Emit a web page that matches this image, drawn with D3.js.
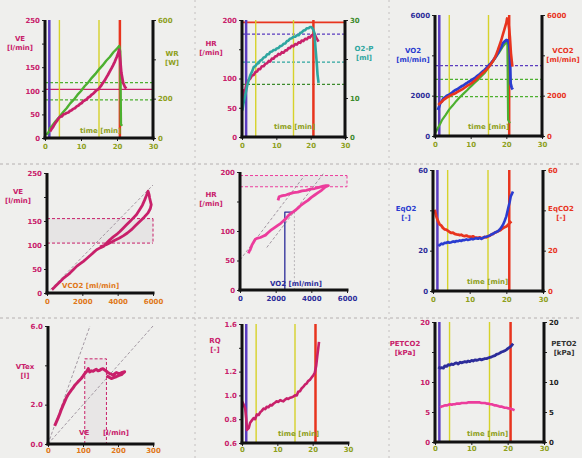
<!DOCTYPE html>
<html><head><meta charset="utf-8">
<script src="https://cdn.jsdelivr.net/npm/d3@7/dist/d3.min.js"></script>
<style>
html,body{margin:0;padding:0;background:#efefed;}
svg{display:block;}
text{font-family:"DejaVu Sans","Liberation Sans",sans-serif;}
</style></head>
<body><svg id="c" width="582" height="458"></svg>
<script>
// ================= DATA =================
const timeTicks = [0, 10, 20, 30];
const eventTimes = [1.2, 4.0, 15.0, 20.8];          // start, VT1, VT2, end of load (min)

// Panel 1: VE and work rate vs time
const p1Time = [1.4,1.9,2.3,2.8,3.3,3.7,4.2,4.7,5.1,5.6,6.0,6.5,6.9,7.4,7.9,8.3,8.8,9.3,9.7,10.2,10.6,11.1,11.6,12.0,12.5,13.0,13.4,13.9,14.3,14.8,15.2,15.7,16.1,16.6,17.1,17.5,18.0,18.5,18.9,19.4,19.9,20.3,20.6,20.9,21.2,21.7,22.2,22.6];
const p1VE   = [14,20,24,31,36,41,45,46,50,51,53,54,57,59,62,63,67,69,72,74,78,80,82,86,88,92,94,98,101,103,107,112,117,122,129,134,141,148,154,162,171,179,187,165,138,117,108,105];
const p1WorkTime = [0.3,1.0,1.4,2.0,3.0,4.0,5.0,6.0,7.0,8.0,9.0,10.0,11.0,12.0,13.0,14.0,15.0,16.0,17.0,18.0,19.0,20.0,20.6,20.9,21.1,21.4];
const p1Work = [15,30,50,62,86,107,131,151,176,195,219,239,263,282,306,326,349,369,393,412,436,454,468,440,70,62];
const p1HLinesWork = [282, 194];
const p1HLineVE = 103;

// Panel 2: HR and O2 pulse vs time
const p2Time = [0.1,0.3,0.5,0.8,1.2,1.6,1.9,2.4,2.9,3.4,3.9,4.4,4.8,5.3,5.8,6.3,6.8,7.3,7.8,8.2,8.7,9.2,9.7,10.1,10.6,11.1,11.6,12.1,12.6,13.1,13.5,14.0,14.5,15.0,15.5,16.0,16.5,17.0,17.4,17.9,18.4,18.9,19.4,19.8,20.3,20.8,21.2,21.5,21.9,22.3];
const p2HR   = [52,70,80,76,88,93,97,100,105,106,111,112,116,116,121,121,125,126,130,129,134,134,138,138,142,141,145,144,148,148,152,152,156,155,159,158,162,161,165,164,168,167,171,170,174,175,176,171,167,163];
const p2O2pTime = [0.1,0.4,0.8,1.2,1.6,1.9,2.4,2.9,3.4,3.9,4.4,4.8,5.3,5.8,6.3,6.8,7.3,7.8,8.2,8.7,9.2,9.7,10.1,10.6,11.1,11.6,12.1,12.6,13.1,13.5,14.0,14.5,15.0,15.5,16.0,16.5,17.0,17.4,17.9,18.4,18.9,19.4,19.8,20.2,20.5,20.8,21.1,21.4,21.8,22.0,22.3];
const p2O2p  = [6.8,8.5,10.1,11.8,13.5,14.4,15.8,16.7,17.9,18.2,18.8,18.9,19.6,19.8,20.4,20.5,21.2,21.2,21.8,21.9,22.3,22.3,22.7,22.8,23.3,23.4,23.9,24.0,24.6,24.7,25.2,25.3,25.7,25.7,26.1,26.1,26.7,26.8,27.3,27.4,27.9,27.9,28.2,28.2,27.9,27.4,26.6,23.0,18.6,16.0,13.9];
const p2HLinesHR = [196, 176];
const p2HLinesO2p = [19.2, 13.5];

// Panel 3: VO2, VCO2 (and work-equivalent reference) vs time
const p3VO2Time = [0.8,1.2,1.5,1.9,2.4,2.8,3.3,3.8,4.3,4.8,5.2,5.7,6.2,6.7,7.1,7.6,8.1,8.6,9.0,9.5,10.0,10.5,10.9,11.4,11.9,12.4,12.8,13.3,13.8,14.3,14.7,15.2,15.7,16.2,16.7,17.1,17.6,18.1,18.6,19.0,19.5,20.0,20.5,20.8,21.0,21.2,21.5,21.8];
const p3VO2 = [1290,1480,1640,1720,1870,1910,1990,2030,2090,2150,2210,2280,2310,2370,2420,2480,2520,2590,2630,2690,2740,2800,2850,2910,2980,3050,3110,3190,3260,3340,3420,3520,3610,3720,3850,3950,4100,4260,4420,4600,4680,4760,4730,4500,4100,2610,2400,2310];
const p3VCO2Time = [0.9,1.4,1.9,2.4,2.8,3.3,3.8,4.3,4.8,5.2,5.7,6.2,6.7,7.1,7.6,8.1,8.6,9.0,9.5,10.0,10.5,10.9,11.4,11.9,12.4,12.8,13.3,13.8,14.3,14.7,15.2,15.7,16.2,16.7,17.1,17.6,18.1,18.6,19.0,19.4,19.8,20.0,20.2,20.4,20.6,20.8,21.0,21.3,21.7];
const p3VCO2 = [1540,1620,1700,1790,1840,1900,1950,2010,2050,2080,2120,2170,2220,2260,2310,2370,2430,2480,2530,2590,2650,2710,2780,2880,2960,3030,3110,3190,3260,3350,3440,3570,3700,3850,4010,4250,4510,4760,5010,5250,5500,5620,5830,5700,5590,5300,4930,4100,3440];
const p3RefTime = [0.0,0.5,1.0,1.5,2.0,3.0,4.0,5.0,6.0,7.0,8.0,9.0,10.0,11.0,12.0,13.0,14.0,15.0,16.0,17.0,18.0,19.0,19.6,20.0,20.3,20.5,21.0];
const p3Ref = [130,300,460,620,800,1050,1320,1520,1740,1930,2100,2270,2450,2620,2780,2960,3140,3400,3640,3900,4150,4430,4560,4630,4600,800,630];
const p3HLines = [3490, 2810, 1950];

// Panel 4: VE vs VCO2
const p4VCO2 = [280,420,560,750,940,1120,1310,1500,1690,1880,2060,2250,2440,2620,2810,3000,3190,3375,3560,3750,3940,4125,4310,4500,4690,4875,5060,5250,5400,5530,5630,5720,5780,5810,5860,5900,5850,5720,5500,5250,5000,4780,4550,4310,4080,3840,3600,3375,3180,3000];
const p4VE   = [7,12,17,24,31,36,42,49,56,61,66,72,78,84,90,94,97,104,111,117,122,128,135,142,149,156,163,174,183,194,203,212,205,198,190,184,176,167,158,149,140,132,125,119,114,110,105,101,98,96];
const p4RefLine = [[0, 0], [6000, 225]];
const p4Box = [104, 155];

// Panel 5: HR vs VO2
const p5VO2 = [476,520,571,620,667,760,857,1000,1143,1290,1429,1570,1714,1860,2000,2140,2286,2430,2571,2710,2857,3000,3143,3290,3429,3620,3810,4000,4190,4380,4571,4720,4857,4952,4820,4667,4430,4190,3950,3714,3480,3238,3000,2762,2570,2381,2190,2133];
const p5HR  = [62,66,68,72,76,81,86,88,89,91,93,97,101,104,107,110,113,117,121,126,130,133,136,140,144,148,152,157,161,165,169,173,176,177,177,176,174,172,171,169,168,166,165,163,161,160,158,152];
const p5RefLines = [[[0, 51], [3620, 194]], [[1500, 72], [4667, 197]]];
const p5Box = [175, 194];
const p5Marker = {vo2: 2514, vo2b: 3050, hr: 132};

// Panel 6: ventilatory equivalents vs time
const p6EqO2Time = [1.4,1.8,2.3,2.7,3.2,3.6,4.1,4.5,5.0,5.5,5.9,6.4,6.8,7.3,7.7,8.2,8.6,9.1,9.5,10.0,10.5,10.9,11.4,11.8,12.3,12.7,13.2,14.1,14.6,15.0,15.5,15.9,16.4,16.8,17.3,17.7,18.2,18.6,19.1,19.5,20.0,20.5,20.9,21.2,21.5,21.8];
const p6EqO2 = [23.0,22.6,23.5,23.2,23.9,23.8,24.3,23.9,24.2,24.6,24.3,24.8,24.7,25.1,24.8,25.3,25.2,25.6,25.3,25.5,25.9,25.6,26.0,26.2,25.9,26.3,25.8,26.8,26.9,27.2,27.6,28.0,28.4,28.9,29.3,29.6,30.5,31.4,32.9,34.6,37.0,41.0,44.0,46.9,48.0,49.3];
const p6EqCO2Time = [0.45,0.9,1.4,1.8,2.3,2.7,3.2,3.6,4.1,4.5,5.0,5.5,5.9,6.4,6.8,7.3,7.7,8.2,8.6,9.1,9.5,10.0,10.5,10.9,11.4,11.8,12.3,12.7,13.2,13.6,14.1,14.5,15.0,15.5,15.9,16.4,16.8,17.3,17.7,18.2,18.6,19.1,19.5,20.0,20.5,20.9,21.4];
const p6EqCO2 = [40.3,37.0,34.5,33.0,32.4,31.3,30.6,30.4,29.8,29.3,28.8,28.9,28.3,28.1,28.0,27.7,27.9,27.4,27.2,27.5,27.1,27.0,26.8,27.1,26.6,26.5,26.3,26.6,26.2,26.3,26.8,26.6,27.1,27.4,28.0,28.3,28.9,29.2,29.6,30.0,30.5,31.2,31.6,32.0,32.9,33.8,34.5];

// Panel 7: tidal volume vs VE
const p7VE = [19,24,29,34,38,43,48,52,57,62,67,72,76,81,86,90,95,100,105,111,115,119,124,129,134,138,143,148,152,157,162,167,171,176,181,186,190,195,200,205,212,219,214,210,203,195,188,181,174,167];
const p7VT = [0.92,1.12,1.33,1.55,1.75,1.96,2.17,2.33,2.5,2.62,2.75,2.86,2.97,3.07,3.17,3.24,3.33,3.45,3.58,3.7,3.83,3.67,3.72,3.7,3.76,3.8,3.72,3.75,3.8,3.83,3.76,3.7,3.64,3.58,3.55,3.5,3.56,3.63,3.6,3.58,3.64,3.67,3.6,3.53,3.49,3.42,3.38,3.33,3.4,3.47];
const p7RefLines = [[[0, 0], [120, 6]], [[0, 0], [300, 6]]];
const p7Box = {ve0: 105, ve1: 167, vt: 4.33};

// Panel 8: RER vs time
const p8Time = [0.0,0.5,0.9,1.2,1.4,1.9,2.3,2.8,3.3,3.7,4.2,4.7,5.2,5.6,6.1,6.6,7.0,7.5,8.0,8.4,8.9,9.4,9.8,10.3,10.8,11.2,11.7,12.2,12.7,13.1,13.6,14.1,14.5,15.0,15.5,15.9,16.4,16.9,17.3,17.8,18.3,18.7,19.2,19.7,20.2,20.6,21.0,21.3,21.6,21.8];
const p8RER  = [0.95,0.92,0.89,0.80,0.71,0.725,0.77,0.79,0.81,0.80,0.84,0.835,0.86,0.87,0.89,0.885,0.905,0.90,0.92,0.915,0.93,0.94,0.95,0.945,0.96,0.955,0.95,0.965,0.975,0.97,0.98,0.985,0.99,1.0,1.0,1.03,1.035,1.06,1.07,1.09,1.10,1.12,1.13,1.15,1.17,1.19,1.25,1.33,1.40,1.45];

// Panel 9: end-tidal partial pressures vs time
const p9O2Time = [0.9,1.4,1.8,2.3,2.7,3.2,3.7,4.1,4.6,5.0,5.5,5.9,6.4,6.9,7.3,7.8,8.2,8.7,9.1,9.6,10.1,10.5,11.0,11.4,11.9,12.3,12.8,13.3,13.7,14.2,14.6,15.1,15.6,16.0,16.5,16.9,17.4,17.8,18.3,18.8,19.2,19.7,20.1,20.6,21.0,21.5];
const p9PETO2 = [12.5,12.3,12.4,12.3,12.7,12.6,12.9,12.8,13.0,12.9,13.1,13.2,13.0,13.3,13.2,13.3,13.4,13.3,13.5,13.4,13.6,13.5,13.7,13.6,13.7,13.8,13.7,13.8,13.9,13.9,14.0,14.1,14.2,14.3,14.4,14.6,14.7,14.8,15.0,15.1,15.2,15.4,15.6,15.8,16.0,16.4];
const p9CO2Time = [1.4,1.8,2.3,2.7,3.2,3.7,4.1,4.6,5.0,5.5,5.9,6.4,6.9,7.3,7.8,8.2,8.7,9.1,9.6,10.1,10.5,11.0,11.4,11.9,12.3,12.8,13.3,13.7,14.2,14.6,15.1,15.6,16.0,16.5,16.9,17.4,17.8,18.3,18.8,19.2,19.7,20.1,20.6,21.0,21.5,21.9];
const p9PETCO2 = [5.8,5.9,6.0,6.1,6.1,6.2,6.3,6.2,6.3,6.3,6.4,6.4,6.4,6.5,6.5,6.5,6.5,6.6,6.6,6.6,6.6,6.6,6.6,6.6,6.6,6.5,6.5,6.5,6.4,6.4,6.3,6.3,6.2,6.1,6.1,6.0,5.9,5.9,5.8,5.7,5.7,5.6,5.6,5.5,5.4,5.3];

// ================= LAYOUT / STYLE =================
const layout = {
  p1:{l:45,r:153,t:20,b:138}, p2:{l:242,r:345,t:20,b:137}, p3:{l:435,r:542,t:15,b:136},
  p4:{l:47,r:153,t:173,b:293}, p5:{l:240,r:347,t:172,b:290}, p6:{l:433,r:543,t:170,b:291},
  p7:{l:48,r:153,t:326,b:444}, p8:{l:242,r:348,t:324,b:443}, p9:{l:435,r:544,t:322,b:442}
};
const C = {
  mag:"#c8206a", pink:"#ec3c9c", green:"#4cb030", dgreen:"#3c8a2c", teal:"#2ea6a0",
  blue:"#2a3cd0", navy:"#2c2c9a", red:"#e8341e", yel:"#d6d22a", purple:"#5a3cc0",
  olive:"#8ea01c", orange:"#e07818", gray:"#9a8f9a"
};
const evColors = [C.purple, C.yel, C.yel, C.red];
const evWidths = [2.5, 1.4, 1.4, 2.5];

const svg = d3.select("#c");
svg.append("rect").attr("width",582).attr("height",458).attr("fill","#efefed");

// separators
[164, 318].forEach(y => svg.append("line").attr("x1",0).attr("x2",582).attr("y1",y).attr("y2",y)
  .attr("stroke","#b5b0b0").attr("stroke-width",1).attr("stroke-dasharray","3,3"));
[195, 389].forEach(x => svg.append("line").attr("x1",x).attr("x2",x).attr("y1",0).attr("y2",458)
  .attr("stroke","#c4c0c0").attr("stroke-width",1).attr("stroke-dasharray","2,4"));

function P(L, xd, yld, yrd){
  return {L, g: svg.append("g"),
    x: d3.scaleLinear().domain(xd).range([L.l, L.r]),
    yl: d3.scaleLinear().domain(yld).range([L.b, L.t]),
    yr: yrd ? d3.scaleLinear().domain(yrd).range([L.b, L.t]) : null};
}
function styleAxis(sel, color){
  sel.select(".domain").remove();
  sel.selectAll("line").attr("stroke","#222").attr("stroke-width",1);
  sel.selectAll("text").attr("fill",color).attr("font-size",7).attr("font-weight","bold");
}
function blankFmt(blank, fmt){ return v => blank.includes(v) ? "" : fmt(v); }
function axes(p, o){
  const L = p.L, g = p.g;
  const gx = g.append("g").attr("transform",`translate(0,${L.b})`)
    .call(d3.axisBottom(p.x).tickValues(o.xt).tickSize(3).tickPadding(o.xpad != null ? o.xpad : 3).tickFormat(o.xf || d3.format("d")));
  styleAxis(gx, o.xc);
  const gl = g.append("g").attr("transform",`translate(${L.l},0)`)
    .call(d3.axisLeft(p.yl).tickValues(o.ylt).tickSize(3).tickPadding(2).tickFormat(blankFmt(o.ylb||[], o.ylf || d3.format("d"))));
  styleAxis(gl, o.ylc);
  if (p.yr){
    const gr = g.append("g").attr("transform",`translate(${L.r},0)`)
      .call(d3.axisRight(p.yr).tickValues(o.yrt).tickSize(3).tickPadding(2).tickFormat(blankFmt(o.yrb||[], o.yrf || d3.format("d"))));
    styleAxis(gr, o.yrc);
    g.append("line").attr("x1",L.r).attr("x2",L.r).attr("y1",L.t).attr("y2",L.b+1.5).attr("stroke","#111").attr("stroke-width",3);
  }
  g.append("line").attr("x1",L.l).attr("x2",L.l).attr("y1",L.t).attr("y2",L.b+1.5).attr("stroke","#111").attr("stroke-width",3);
  g.append("line").attr("x1",L.l-1.5).attr("x2",L.r+1.5).attr("y1",L.b).attr("y2",L.b).attr("stroke","#111").attr("stroke-width",3);
}
function series(p, xs, ys, ysc, color, w, dash){
  const d = xs.map((v,i)=>[v, ys[i]]);
  p.g.append("path").datum(d)
    .attr("d", d3.line().x(q=>p.x(q[0])).y(q=>ysc(q[1])))
    .attr("fill","none").attr("stroke",color).attr("stroke-width",w)
    .attr("stroke-linejoin","round").attr("stroke-dasharray",dash||null);
}
function hline(p, ysc, v, color, w, dash, x0, x1){
  p.g.append("line").attr("x1", x0 != null ? p.x(x0) : p.L.l).attr("x2", x1 != null ? p.x(x1) : p.L.r)
    .attr("y1", ysc(v)).attr("y2", ysc(v))
    .attr("stroke",color).attr("stroke-width",w).attr("stroke-dasharray",dash||null);
}
function vline(p, v, color, w, dash, y0, y1){
  p.g.append("line").attr("x1",p.x(v)).attr("x2",p.x(v))
    .attr("y1", y0 != null ? y0 : p.L.t).attr("y2", y1 != null ? y1 : p.L.b)
    .attr("stroke",color).attr("stroke-width",w).attr("stroke-dasharray",dash||null);
}
function events(p){ eventTimes.forEach((t,i)=>vline(p, t, evColors[i], evWidths[i])); }
function txt(p, x, y, s, color, anchor){
  p.g.append("text").attr("x",x).attr("y",y).text(s).attr("fill",color)
    .attr("font-size",7).attr("font-weight","bold").attr("text-anchor",anchor||"start");
}
function title2(p, x, y, a, b, color){ txt(p,x,y,a,color,"middle"); txt(p,x,y+9,b,color,"middle"); }

// ---------- Panel 1 ----------
{
  const p = P(layout.p1, [0,30], [0,250], [0,600]);
  p1HLinesWork.forEach(v => hline(p, p.yr, v, C.green, 1.2, "3,2"));
  hline(p, p.yl, p1HLineVE, C.mag, 1.4);
  events(p);
  series(p, p1WorkTime, p1Work, p.yr, C.green, 2.4);
  series(p, p1Time, p1VE, p.yl, C.mag, 2.8);
  axes(p, {xt:timeTicks, xc:C.olive, ylt:[0,50,100,150,200,250], ylc:C.mag, ylb:[200],
           yrt:[0,200,400,600], yrc:C.olive, yrb:[400]});
  title2(p, 20, 41, "VE", "[l/min]", C.mag);
  title2(p, 172, 56, "WR", "[W]", C.olive);
  txt(p, 80, 133, "time  [min]", C.olive);
}
// ---------- Panel 2 ----------
{
  const p = P(layout.p2, [0,30], [0,200], [0,30]);
  hline(p, p.yl, p2HLinesHR[0], C.red, 1.6);
  hline(p, p.yl, p2HLinesHR[1], C.purple, 1.2, "3,2");
  hline(p, p.yr, p2HLinesO2p[0], C.teal, 1.2, "3,2");
  hline(p, p.yr, p2HLinesO2p[1], C.dgreen, 1.2, "3,2");
  events(p);
  series(p, p2Time, p2HR, p.yl, C.mag, 2.6);
  series(p, p2O2pTime, p2O2p, p.yr, C.teal, 2.6);
  axes(p, {xt:timeTicks, xc:C.olive, ylt:[0,50,100,150,200], ylc:C.mag, ylb:[150],
           yrt:[0,10,20,30], yrc:C.dgreen, yrb:[20]});
  title2(p, 211, 46, "HR", "[/min]", C.mag);
  title2(p, 364, 51, "O2-P", "[ml]", C.teal);
  txt(p, 274, 129, "time  [min]", C.olive);
}
// ---------- Panel 3 ----------
{
  const p = P(layout.p3, [0,30], [0,6000], [0,6000]);
  hline(p, p.yl, p3HLines[0], C.purple, 1.2, "3,2");
  hline(p, p.yl, p3HLines[1], C.green, 1.2, "3,2");
  hline(p, p.yl, p3HLines[2], C.green, 1.2, "3,2");
  events(p);
  series(p, p3RefTime, p3Ref, p.yl, C.green, 2.2);
  series(p, p3VO2Time, p3VO2, p.yl, C.blue, 2.8);
  series(p, p3VCO2Time, p3VCO2, p.yr, C.red, 2.6);
  axes(p, {xt:timeTicks, xc:C.olive, ylt:[0,2000,4000,6000], ylc:C.navy, ylb:[4000],
           yrt:[0,2000,4000,6000], yrc:C.red, yrb:[4000]});
  title2(p, 413, 53, "VO2", "[ml/min]", C.blue);
  title2(p, 563, 53, "VCO2", "[ml/min]", C.red);
  txt(p, 468, 129, "time  [min]", C.olive);
}
// ---------- Panel 4 ----------
{
  const p = P(layout.p4, [0,6000], [0,250]);
  p.g.append("rect").attr("x",p.x(0)).attr("width",p.x(6000)-p.x(0))
    .attr("y",p.yl(p4Box[1])).attr("height",p.yl(p4Box[0])-p.yl(p4Box[1])).attr("fill","#e6e4e4");
  hline(p, p.yl, p4Box[0], C.mag, 1, "3,2");
  hline(p, p.yl, p4Box[1], C.mag, 1, "3,2");
  vline(p, 6000, C.mag, 1, "3,2", p.yl(p4Box[1]), p.yl(p4Box[0]));
  series(p, p4RefLine.map(d=>d[0]), p4RefLine.map(d=>d[1]), p.yl, C.gray, 0.9, "3,2");
  series(p, p4VCO2, p4VE, p.yl, C.mag, 2.8);
  axes(p, {xt:[0,2000,4000,6000], xc:C.orange, ylt:[0,50,100,150,200,250], ylc:C.mag, ylb:[200]});
  title2(p, 18, 194, "VE", "[l/min]", C.mag);
  txt(p, 62, 288, "VCO2  [ml/min]", C.orange);
}
// ---------- Panel 5 ----------
{
  const p = P(layout.p5, [0,6000], [0,200]);
  p.g.append("rect").attr("x",p.x(0)).attr("width",p.x(6000)-p.x(0))
    .attr("y",p.yl(p5Box[1])).attr("height",p.yl(p5Box[0])-p.yl(p5Box[1])).attr("fill","#e9e6e8");
  hline(p, p.yl, p5Box[0], C.pink, 1, "3,2");
  hline(p, p.yl, p5Box[1], C.pink, 1, "3,2");
  vline(p, 6000, C.pink, 1, "3,2", p.yl(p5Box[1]), p.yl(p5Box[0]));
  p5RefLines.forEach(l => series(p, l.map(d=>d[0]), l.map(d=>d[1]), p.yl, C.gray, 0.9, "3,2"));
  vline(p, p5Marker.vo2b, "#b8b4b8", 1, "2,2", p.yl(p5Marker.hr), p.L.b);
  series(p, [p5Marker.vo2, p5Marker.vo2, p5Marker.vo2b], [0, p5Marker.hr, p5Marker.hr], p.yl, C.navy, 1.3);
  series(p, p5VO2, p5HR, p.yl, C.pink, 2.8);
  axes(p, {xt:[0,2000,4000,6000], xc:C.navy, ylt:[0,50,100,150,200], ylc:C.mag, ylb:[150]});
  title2(p, 211, 197, "HR", "[/min]", C.mag);
  txt(p, 270, 286, "VO2  [ml/min]", C.navy);
}
// ---------- Panel 6 ----------
{
  const p = P(layout.p6, [0,30], [0,60], [0,60]);
  events(p);
  series(p, p6EqCO2Time, p6EqCO2, p.yr, C.red, 2.8);
  series(p, p6EqO2Time, p6EqO2, p.yl, C.blue, 2.6);
  axes(p, {xt:timeTicks, xc:C.olive, ylt:[0,20,40,60], ylc:C.navy, ylb:[40],
           yrt:[0,20,40,60], yrc:C.red, yrb:[40]});
  title2(p, 406, 211, "EqO2", "[-]", C.blue);
  title2(p, 561, 211, "EqCO2", "[-]", C.red);
  txt(p, 467, 284, "time  [min]", C.olive);
}
// ---------- Panel 7 ----------
{
  const p = P(layout.p7, [0,300], [0,6]);
  p.g.append("rect").attr("x",p.x(p7Box.ve0)).attr("width",p.x(p7Box.ve1)-p.x(p7Box.ve0))
    .attr("y",p.yl(p7Box.vt)).attr("height",p.yl(0)-p.yl(p7Box.vt)).attr("fill","#e8e6e6");
  series(p, [p7Box.ve0,p7Box.ve0,p7Box.ve1,p7Box.ve1], [0,p7Box.vt,p7Box.vt,0], p.yl, C.mag, 1, "3,2");
  p7RefLines.forEach(l => series(p, l.map(d=>d[0]), l.map(d=>d[1]), p.yl, C.gray, 0.9, "3,2"));
  series(p, p7VE, p7VT, p.yl, C.mag, 3);
  axes(p, {xt:[0,100,200,300], xc:C.orange, xpad:1, ylt:[0,2,4,6], ylc:C.mag, ylb:[4], ylf:d3.format(".1f")});
  title2(p, 25, 369, "VTex", "[l]", C.mag);
  txt(p, 79, 435, "VE", C.mag);
  txt(p, 103, 435, "[l/min]", C.mag);
}
// ---------- Panel 8 ----------
{
  const p = P(layout.p8, [0,30], [0.6,1.6]);
  events(p);
  series(p, p8Time, p8RER, p.yl, C.mag, 2.6);
  axes(p, {xt:timeTicks, xc:C.olive, xpad:1, ylt:[0.6,0.8,1.0,1.2,1.4,1.6], ylc:C.mag, ylb:[1.4], ylf:d3.format(".1f")});
  title2(p, 215, 343, "RQ", "[-]", C.mag);
  txt(p, 278, 436, "time  [min]", C.olive);
}
// ---------- Panel 9 ----------
{
  const p = P(layout.p9, [0,30], [0,20], [0,20]);
  events(p);
  series(p, p9CO2Time, p9PETCO2, p.yl, C.pink, 2.6);
  series(p, p9O2Time, p9PETO2, p.yr, C.navy, 2.8);
  axes(p, {xt:timeTicks, xc:C.olive, xpad:1, ylt:[0,5,10,15,20], ylc:C.mag, ylb:[15],
           yrt:[0,5,10,15,20], yrc:"#222", yrb:[15]});
  title2(p, 405, 346, "PETCO2", "[kPa]", C.mag);
  title2(p, 564, 346, "PETO2", "[kPa]", "#333");
  txt(p, 467, 436, "time  [min]", C.olive);
}
</script>
</body></html>
